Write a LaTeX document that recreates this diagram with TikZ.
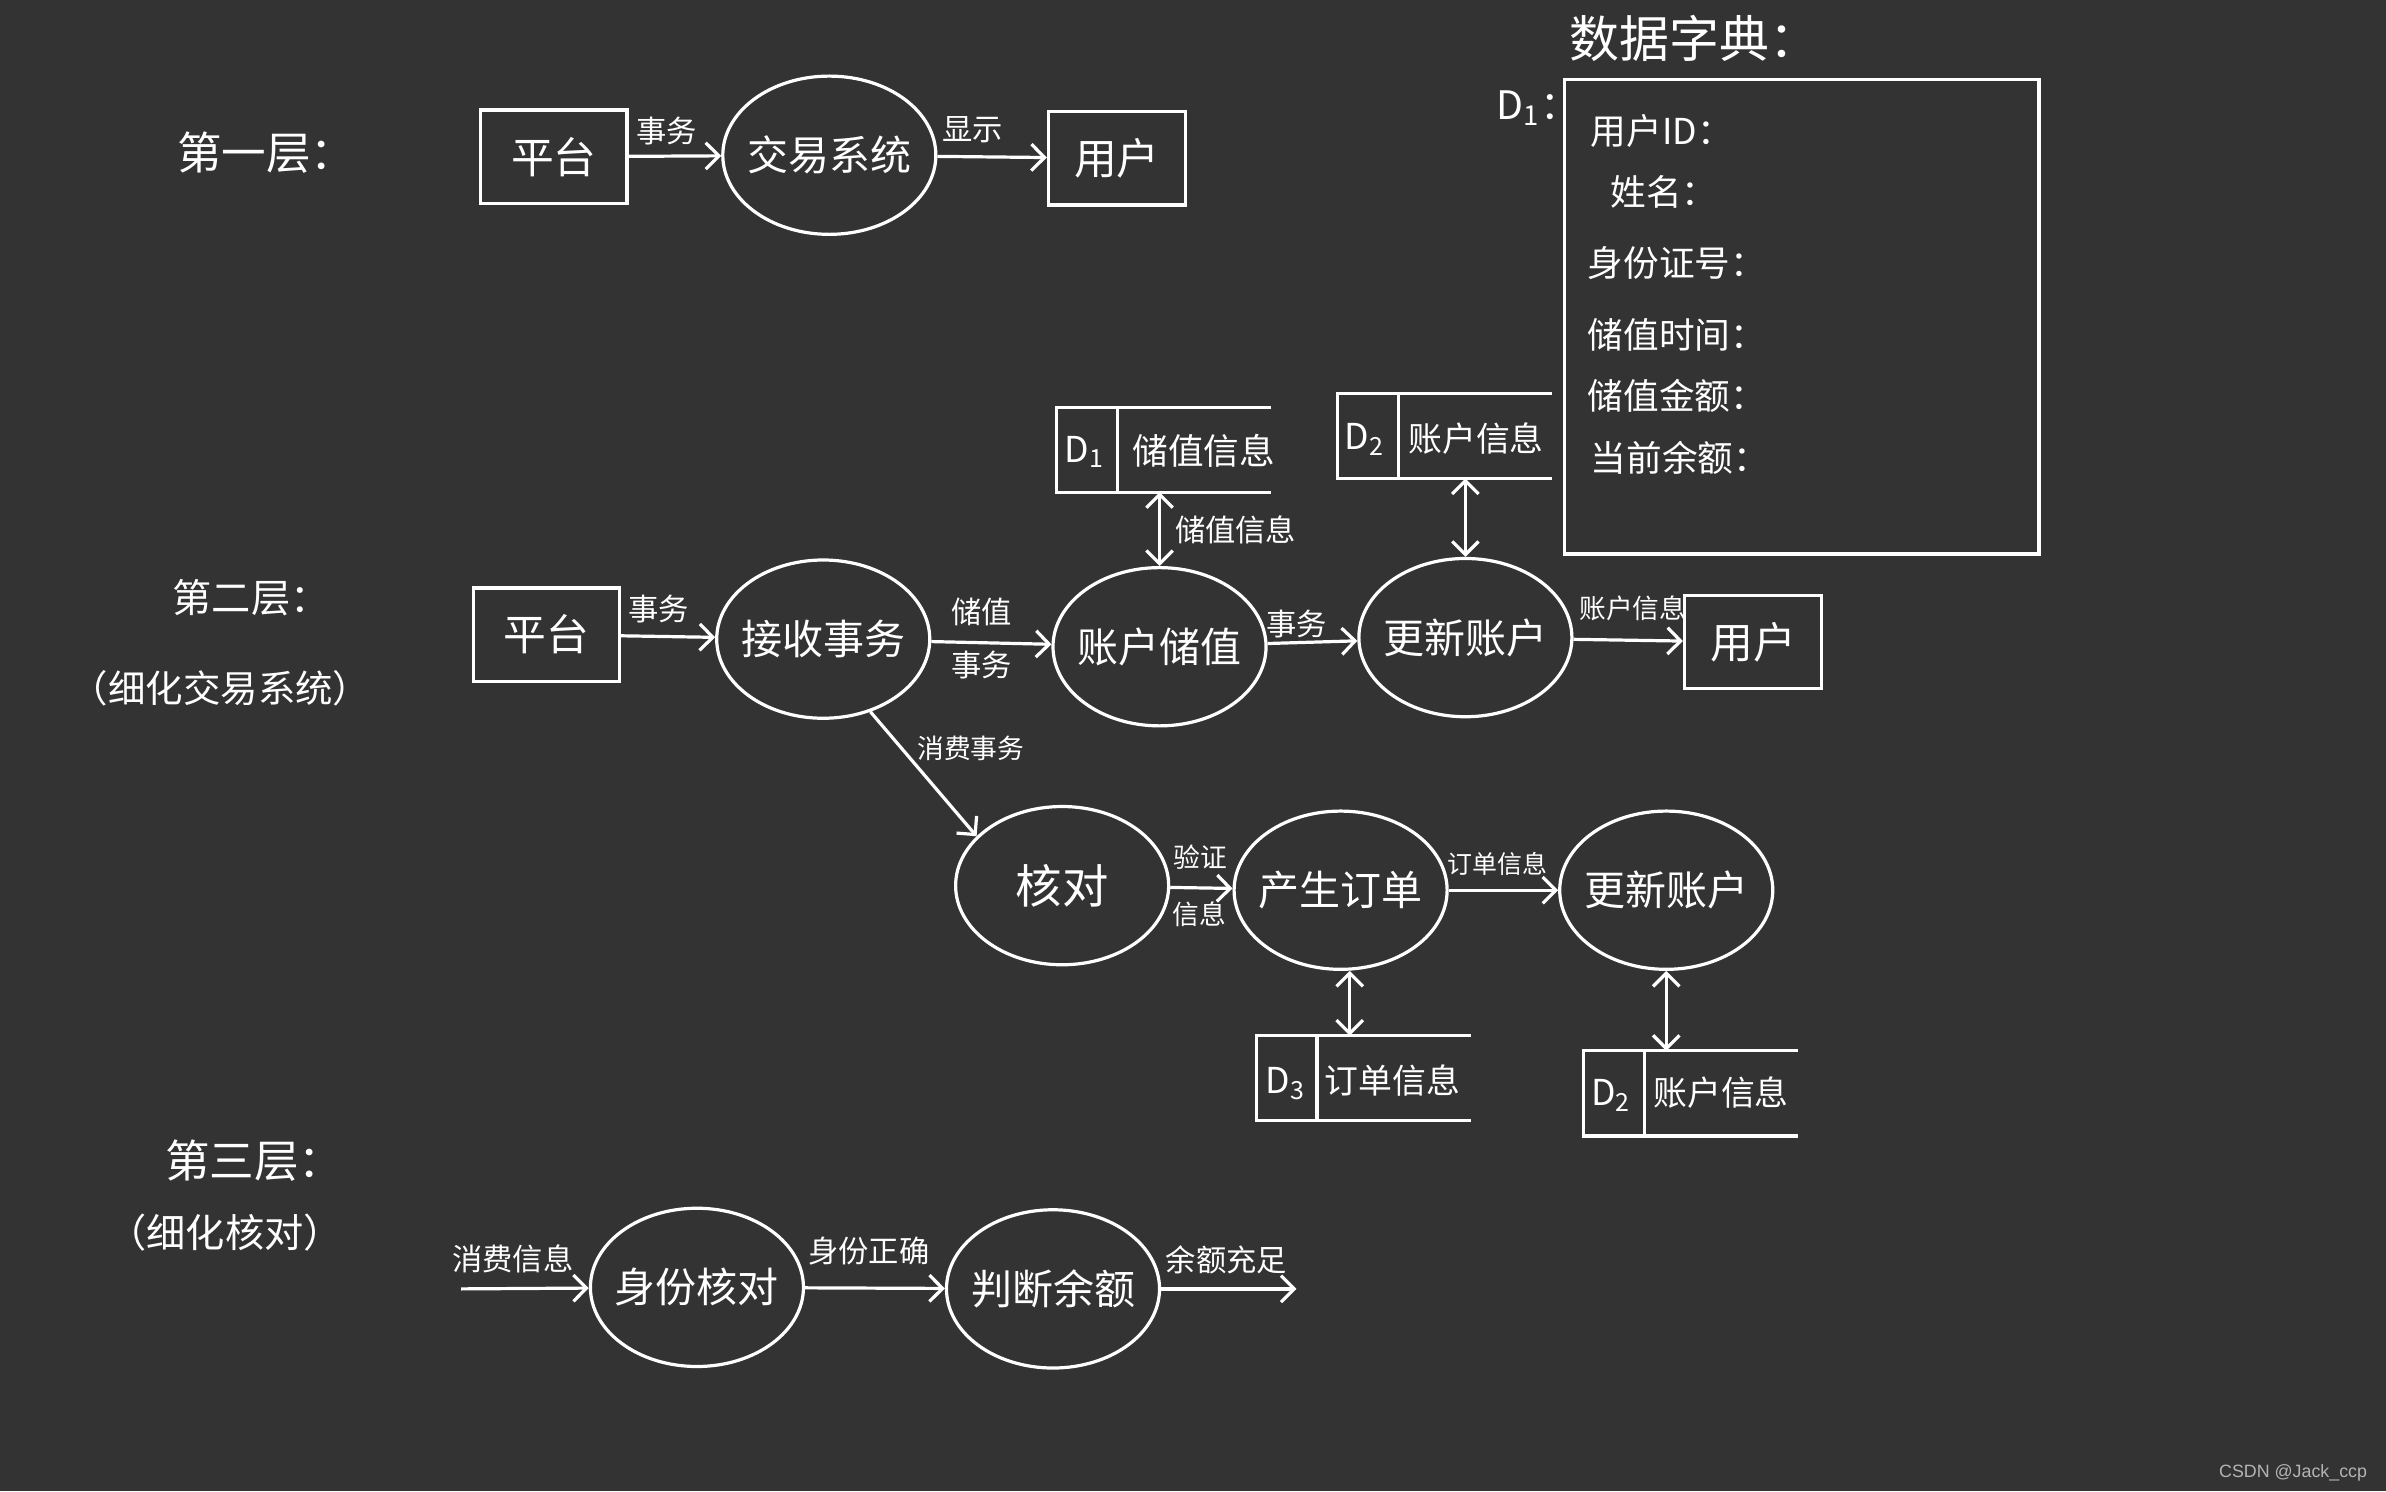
\documentclass[tikz,border=0pt]{standalone}
\usepackage{fontspec}
\setmainfont{Noto Sans CJK SC}
\newfontfamily\wmfont{Liberation Sans}
\usetikzlibrary{shapes.geometric,arrows.meta}
\definecolor{bg}{HTML}{333333}
\definecolor{wm}{HTML}{B4B4B4}
\newcommand\fs[1]{\fontsize{#1}{#1}\selectfont}
\newcommand\drawstore[1]{%
  \draw[line] (#1.north east) -- (#1.north west) -- (#1.south west) -- (#1.south east);
  \draw[line] ([xshift=0.6cm]#1.north west) -- ([xshift=0.6cm]#1.south west);}
\begin{document}
\begin{tikzpicture}[x=0.015cm,y=-0.015cm,
  every node/.style={text=white, inner sep=0pt},
  line/.style={draw=white, line width=0.9pt},
  flow/.style={line, -{Straight Barb[length=1.3mm,width=2.6mm]}},
  biflow/.style={line, {Straight Barb[length=1.3mm,width=2.6mm]}-{Straight Barb[length=1.3mm,width=2.6mm]}},
  proc/.style={ellipse, draw=white, line width=0.9pt, inner xsep=-0.2cm, inner ysep=0pt, minimum width=2.1cm, minimum height=1.56cm, font=\fs{11.5}},
  ent/.style={rectangle, draw=white, line width=0.9pt, minimum width=1.44cm, minimum height=0.92cm, font=\fs{12}},
  storebox/.style={rectangle, minimum width=2.1cm, minimum height=0.825cm},
  lbl/.style={font=\fs{8.5}},
  slbl/.style={font=\fs{7.5}},
  layertitle/.style={anchor=west, font=\fs{12.5}},
  dictitem/.style={anchor=west, font=\fs{10}},
]
\fill[bg] (0,0) rectangle (1568,980);
\useasboundingbox (0,0) rectangle (1568,980);

% ---------- Layer 1 ----------
\node[layertitle] (t1) at (116,100) {第一层：};
\node[ent] (pf1) at (364,103) {平台};
\node[proc] (sys) at (545,102) {交易系统};
\node[ent, minimum width=1.35cm] (user1) at (734,104) {用户};
\draw[flow] (pf1) -- (sys);
\draw[flow] (sys) -- (user1);
\node[lbl] (l1a) at (438,86) {事务};
\node[lbl] (l1b) at (639,85) {显示};

% ---------- Data dictionary ----------
\node[anchor=west, font=\fs{14}] (dt) at (1031,25) {数据字典：};
\node[anchor=west, font=\fs{11}] (dd1) at (983,71) {D\textsubscript{1}：};
\node[rectangle, draw=white, line width=0.9pt, minimum width=4.68cm, minimum height=4.68cm] (dict) at (1184,208) {};
\node[dictitem] (i1) at (1045,86) {用户ID：};
\node[dictitem] (i2) at (1058,126) {姓名：};
\node[dictitem] (i3) at (1043,173) {身份证号：};
\node[dictitem] (i4) at (1043,220) {储值时间：};
\node[dictitem] (i5) at (1043,260) {储值金额：};
\node[dictitem] (i6) at (1045,301) {当前余额：};

% ---------- Layer 2 ----------
\node[layertitle, font=\fs{11}] (t2) at (113,393) {第二层：};
\node[font=\fs{10.5}] (t2b) at (145,452) {（细化交易系统）};
\node[ent] (pf2) at (359,417) {平台};
\node[proc] (recv) at (541,420) {接收事务};
\node[proc] (acc) at (762,425) {账户储值};
\node[proc] (upd) at (963,419) {更新账户};
\node[ent, minimum width=1.35cm] (user2) at (1152,422) {用户};
\draw[flow] (pf2) -- (recv);
\draw[flow] (recv) -- (acc);
\draw[flow] (acc) -- (upd);
\draw[flow] (upd) -- (user2);
\node[lbl] (l2a) at (433,400) {事务};
\node[lbl] (l2b) at (645,402) {储值};
\node[lbl] (l2c) at (645,437) {事务};
\node[lbl] (l2d) at (852,410) {事务};
\node[slbl] (l2e) at (1073,400) {账户信息};

% store D1
\node[storebox] (d1) at (765,295.5) {};
\drawstore{d1}
\node[font=\fs{10}] (d1a) at (713,297) {D\textsubscript{1}};
\node[font=\fs{10}] (d1b) at (791,296) {储值信息};
\draw[biflow] (acc.north) -- (acc.north |- d1.south);
\node[lbl] (l2f) at (812,348) {储值信息};

% store D2 (top)
\node[storebox] (d2) at (949.5,286.5) {};
\drawstore{d2}
\node[font=\fs{10}] (d2a) at (897,289) {D\textsubscript{2}};
\node[font=\fs{9.5}] (d2b) at (970,288) {账户信息};
\draw[biflow] (upd.north |- d2.south) -- (upd.north);

% consumption branch
\node[proc, font=\fs{13}] (chk) at (698,582) {核对};
\node[proc] (ord) at (881,585) {产生订单};
\node[proc] (upd2) at (1095,585) {更新账户};
\draw[flow] (recv.-57) -- (chk.150);
\node[slbl] (l3a) at (638,492) {消费事务};
\draw[flow] (chk) -- (ord);
\node[slbl] (l3b) at (789,563) {验证};
\node[slbl] (l3c) at (788,601) {信息};
\draw[flow] (ord) -- (upd2);
\node[font=\fs{7}] (l3d) at (984,568) {订单信息};

% store D3
\node[storebox] (d3) at (896,708.5) {};
\drawstore{d3}
\node[font=\fs{10}] (d3a) at (845,712) {D\textsubscript{3}};
\node[font=\fs{9.5}] (d3b) at (915,710) {订单信息};
\draw[biflow] ([xshift=0.09cm]ord.south) -- ([xshift=0.09cm]ord.south |- d3.north);

% store D2 (bottom)
\node[storebox] (d2b) at (1111,718.5) {};
\drawstore{d2b}
\node[font=\fs{10}] (d2c) at (1059,720) {D\textsubscript{2}};
\node[font=\fs{9.5}] (d2d) at (1131,718) {账户信息};
\draw[biflow] (upd2.south) -- (upd2.south |- d2b.north);

% ---------- Layer 3 ----------
\node[layertitle] (t3) at (108,763) {第三层：};
\node[font=\fs{11}] (t3b) at (148,810) {（细化核对）};
\coordinate (in3) at (303,847);
\node[proc] (idc) at (458,846) {身份核对};
\node[proc] (bal) at (692,847) {判断余额};
\coordinate (out3) at (852,847);
\draw[flow] (in3) -- (idc);
\draw[flow] (idc) -- (bal);
\draw[flow] (bal) -- (out3);
\node[lbl] (l4a) at (337,827) {消费信息};
\node[lbl] (l4b) at (571,822) {身份正确};
\node[lbl] (l4c) at (806,828) {余额充足};

% watermark
\node[text=wm, font=\wmfont\fs{5}, anchor=east] (wmk) at (1556,968) {CSDN @Jack\_ccp};
\end{tikzpicture}
\end{document}
